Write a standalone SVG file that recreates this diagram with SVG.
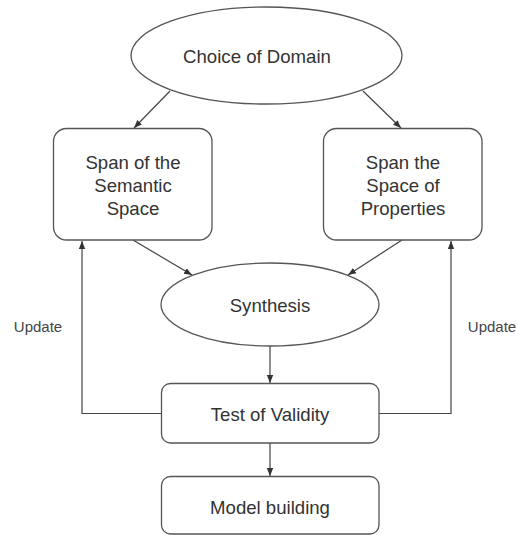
<svg xmlns="http://www.w3.org/2000/svg" width="517" height="535" viewBox="0 0 517 535">
<style>
.n{fill:#fff;stroke:#555;stroke-width:1.3}
.t{font-family:"Liberation Sans",Arial,sans-serif;font-size:18.6px;fill:#333;text-anchor:middle}
.u{font-family:"Liberation Sans",Arial,sans-serif;font-size:15px;fill:#444;text-anchor:middle}
.c{fill:none;stroke:#444;stroke-width:1.2}
</style>
<defs>
<marker id="ah" viewBox="0 0 10 10" refX="10" refY="5" markerWidth="8" markerHeight="8" markerUnits="userSpaceOnUse" orient="auto">
<path d="M0,1 L10,5 L0,9 Z" fill="#333"/>
</marker>
</defs>
<rect width="517" height="535" fill="#fff"/>
<g id="connectors">
<line class="c" x1="170" y1="91" x2="134" y2="128" marker-end="url(#ah)"/>
<line class="c" x1="363" y1="91" x2="401" y2="128" marker-end="url(#ah)"/>
<line class="c" x1="133" y1="240" x2="192" y2="275" marker-end="url(#ah)"/>
<line class="c" x1="402" y1="240" x2="348" y2="275" marker-end="url(#ah)"/>
<line class="c" x1="270" y1="346" x2="270" y2="383" marker-end="url(#ah)"/>
<line class="c" x1="270" y1="443" x2="270" y2="476" marker-end="url(#ah)"/>
<polyline class="c" points="161,413.5 82,413.5 82,241" marker-end="url(#ah)"/>
<polyline class="c" points="379,413.5 451,413.5 451,241" marker-end="url(#ah)"/>
<text class="u" x="38" y="332">Update</text>
<text class="u" x="492" y="332">Update</text>
</g>
<g id="choice">
<ellipse class="n" cx="266.5" cy="55.5" rx="135.5" ry="48.5"/>
<text class="t" x="257" y="63">Choice of Domain</text>
</g>
<g id="semantic">
<rect class="n" x="53.5" y="128.5" width="158.5" height="111.5" rx="13"/>
<text class="t" x="133" y="169">Span of the</text>
<text class="t" x="133" y="192">Semantic</text>
<text class="t" x="133" y="215">Space</text>
</g>
<g id="properties">
<rect class="n" x="323.5" y="128.5" width="158.5" height="111.5" rx="13"/>
<text class="t" x="403" y="169">Span the</text>
<text class="t" x="403" y="192">Space of</text>
<text class="t" x="403" y="215">Properties</text>
</g>
<g id="synthesis">
<ellipse class="n" cx="270" cy="304.5" rx="109" ry="41.5"/>
<text class="t" x="270" y="312">Synthesis</text>
</g>
<g id="test">
<rect class="n" x="161.5" y="383.5" width="217.5" height="59.5" rx="9"/>
<text class="t" x="270" y="420.5">Test of Validity</text>
</g>
<g id="model">
<rect class="n" x="161.5" y="476.5" width="217.5" height="57.5" rx="9"/>
<text class="t" x="270" y="513.5">Model building</text>
</g>
</svg>
